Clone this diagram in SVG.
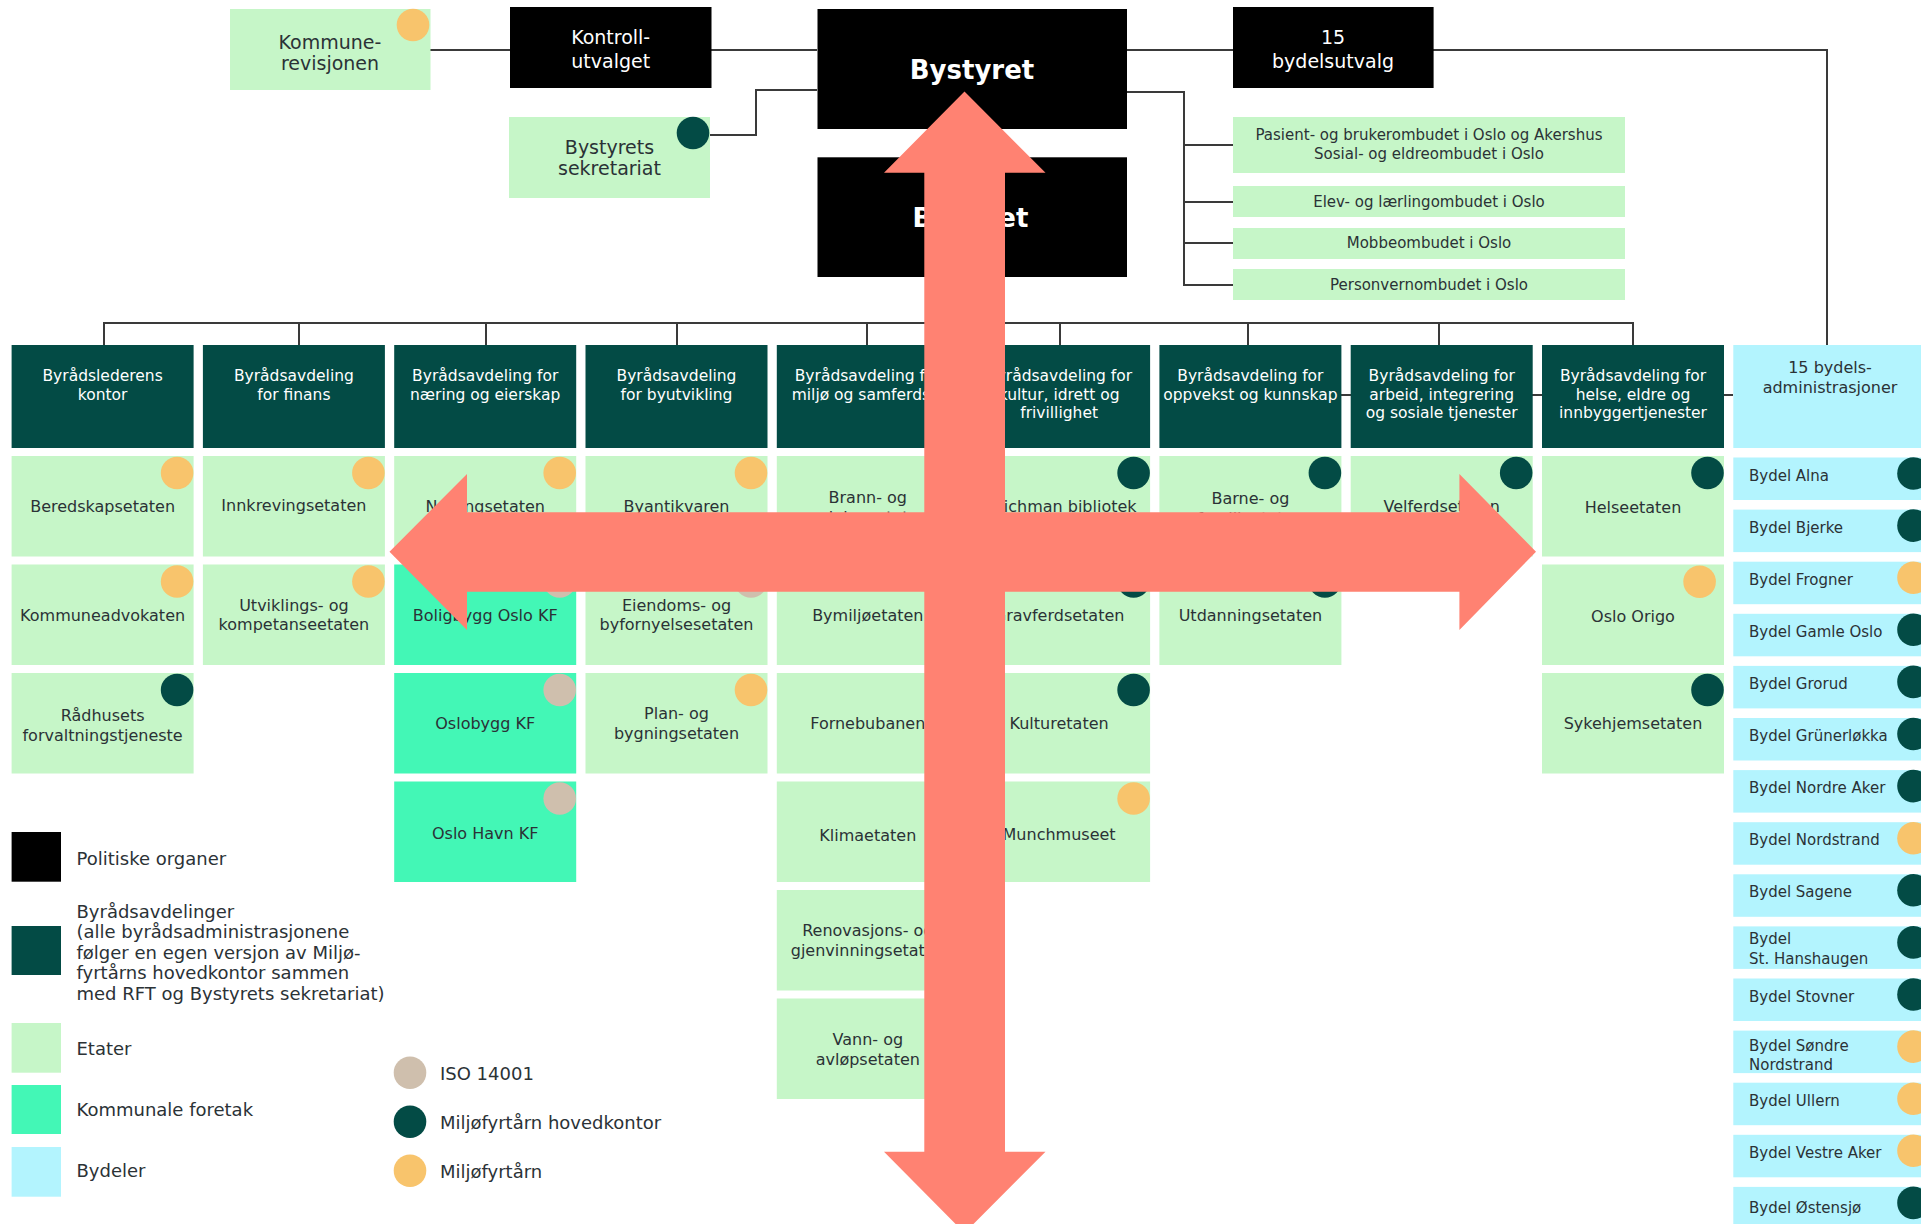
<svg xmlns="http://www.w3.org/2000/svg" width="1921" height="1224" viewBox="0 0 1921 1224">
<style>
.pol{fill:#000}
.dep{fill:#034B45}
.eta{fill:#C6F6C8}
.kf{fill:#43F7B6}
.byd{fill:#B3F4FE}
.co{fill:#F8C46C}
.cd{fill:#034B45}
.ci{fill:#CFBFAD}
.ln{fill:none;stroke:#3a3a3a;stroke-width:2}
text{font-family:"DejaVu Sans","Liberation Sans",sans-serif;fill:#2B3236;text-anchor:middle}
.f19{font-size:19px}
.f16{font-size:16px}
.f15{font-size:15px}
.f18{font-size:18px}
.wt{fill:#fff}
.big{font-size:26px;font-weight:bold;fill:#fff}
.dt{font-size:15.5px;fill:#fff}
.st{text-anchor:start}
.arrow{fill:#FF8272}
</style>

<g id="connectors">
<polyline class="ln" points="430,50 510,50"/>
<polyline class="ln" points="711,50 817,50"/>
<polyline class="ln" points="710,135 756,135 756,90 817,90"/>
<polyline class="ln" points="1127,50 1233,50"/>
<polyline class="ln" points="1433,50 1827,50 1827,345"/>
<polyline class="ln" points="1127,92 1184,92 1184,285 1233,285"/>
<polyline class="ln" points="1184,145 1233,145"/>
<polyline class="ln" points="1184,202 1233,202"/>
<polyline class="ln" points="1184,243 1233,243"/>
<polyline class="ln" points="972,277 972,323"/>
<polyline class="ln" points="104,345 104,323 1633,323 1633,345"/>
<polyline class="ln" points="299,323 299,345"/>
<polyline class="ln" points="486,323 486,345"/>
<polyline class="ln" points="677,323 677,345"/>
<polyline class="ln" points="867,323 867,345"/>
<polyline class="ln" points="1060,323 1060,345"/>
<polyline class="ln" points="1248,323 1248,345"/>
<polyline class="ln" points="1439,323 1439,345"/>
<polyline class="ln" points="1341,395 1733,395"/>
</g>

<g id="kommunerevisjonen"><rect class="eta" x="230" y="9" width="200.5" height="81"/><circle class="co" cx="413" cy="25" r="16.3"/><text class="f19" x="330" y="49">Kommune-</text><text class="f19" x="330" y="70">revisjonen</text></g>
<g id="kontrollutvalget"><rect class="pol" x="510" y="7" width="201.5" height="81"/><text class="f19 wt" x="610.7" y="44">Kontroll-</text><text class="f19 wt" x="610.7" y="68">utvalget</text></g>
<g id="bystyrets-sekretariat"><rect class="eta" x="509" y="117" width="201" height="81"/><circle class="cd" cx="693" cy="133" r="16.3"/><text class="f19" x="609.5" y="154">Bystyrets</text><text class="f19" x="609.5" y="175">sekretariat</text></g>
<g id="bystyret"><rect class="pol" x="817.5" y="9" width="309.5" height="120"/><text class="big" x="972" y="79">Bystyret</text></g>
<g id="byradet"><rect class="pol" x="817.5" y="157.3" width="309.5" height="119.7"/><text class="big" x="970.5" y="226.7">Byrådet</text></g>
<g id="bydelsutvalg"><rect class="pol" x="1233" y="7" width="200.6" height="81"/><text class="f19 wt" x="1333" y="44">15</text><text class="f19 wt" x="1333" y="68">bydelsutvalg</text></g>

<g id="ombud-pasient"><rect class="eta" x="1233" y="117" width="392" height="56"/><text class="f15" x="1429" y="139.5">Pasient- og brukerombudet i Oslo og Akershus</text><text class="f15" x="1429" y="158.5">Sosial- og eldreombudet i Oslo</text></g>
<g id="ombud-elev"><rect class="eta" x="1233" y="186" width="392" height="31"/><text class="f15" x="1429" y="206.5">Elev- og lærlingombudet i Oslo</text></g>
<g id="ombud-mobbe"><rect class="eta" x="1233" y="228" width="392" height="31"/><text class="f15" x="1429" y="247.5">Mobbeombudet i Oslo</text></g>
<g id="ombud-personvern"><rect class="eta" x="1233" y="269" width="392" height="31"/><text class="f15" x="1429" y="289.5">Personvernombudet i Oslo</text></g>

<g id="dep-byradsleder"><rect class="dep" x="11.6" y="345" width="182" height="103"/><text class="dt" x="102.6" y="381">Byrådslederens</text><text class="dt" x="102.6" y="399.5">kontor</text></g>
<g id="dep-finans"><rect class="dep" x="202.9" y="345" width="182" height="103"/><text class="dt" x="293.9" y="381">Byrådsavdeling</text><text class="dt" x="293.9" y="399.5">for finans</text></g>
<g id="dep-naring"><rect class="dep" x="394.2" y="345" width="182" height="103"/><text class="dt" x="485.2" y="381">Byrådsavdeling for</text><text class="dt" x="485.2" y="399.5">næring og eierskap</text></g>
<g id="dep-byutvikling"><rect class="dep" x="585.5" y="345" width="182" height="103"/><text class="dt" x="676.5" y="381">Byrådsavdeling</text><text class="dt" x="676.5" y="399.5">for byutvikling</text></g>
<g id="dep-miljo"><rect class="dep" x="776.8" y="345" width="182" height="103"/><text class="dt" x="867.8" y="381">Byrådsavdeling for</text><text class="dt" x="867.8" y="399.5">miljø og samferdsel</text></g>
<g id="dep-kultur"><rect class="dep" x="968.1" y="345" width="182" height="103"/><text class="dt" x="1059.1" y="381">Byrådsavdeling for</text><text class="dt" x="1059.1" y="399.5">kultur, idrett og</text><text class="dt" x="1059.1" y="418">frivillighet</text></g>
<g id="dep-oppvekst"><rect class="dep" x="1159.4" y="345" width="182" height="103"/><text class="dt" x="1250.4" y="381">Byrådsavdeling for</text><text class="dt" x="1250.4" y="399.5">oppvekst og kunnskap</text></g>
<g id="dep-arbeid"><rect class="dep" x="1350.7" y="345" width="182" height="103"/><text class="dt" x="1441.7" y="381">Byrådsavdeling for</text><text class="dt" x="1441.7" y="399.5">arbeid, integrering</text><text class="dt" x="1441.7" y="418">og sosiale tjenester</text></g>
<g id="dep-helse"><rect class="dep" x="1542" y="345" width="182" height="103"/><text class="dt" x="1633" y="381">Byrådsavdeling for</text><text class="dt" x="1633" y="399.5">helse, eldre og</text><text class="dt" x="1633" y="418">innbyggertjenester</text></g>
<g id="bydelsadm"><rect class="byd" x="1733.3" y="345" width="200" height="103"/><text class="f16" x="1830" y="373">15 bydels-</text><text class="f16" x="1830" y="393">administrasjoner</text></g>

<g id="beredskapsetaten"><rect class="eta" x="11.6" y="456" width="182" height="100.5"/><circle class="co" cx="177.1" cy="473" r="16.3"/><text class="f16" x="102.6" y="512">Beredskapsetaten</text></g>
<g id="kommuneadvokaten"><rect class="eta" x="11.6" y="564.5" width="182" height="100.5"/><circle class="co" cx="177.1" cy="581.5" r="16.3"/><text class="f16" x="102.6" y="620.5">Kommuneadvokaten</text></g>
<g id="radhusets"><rect class="eta" x="11.6" y="673" width="182" height="100.5"/><circle class="cd" cx="177.1" cy="690" r="16.3"/><text class="f16" x="102.6" y="721">Rådhusets</text><text class="f16" x="102.6" y="740.5">forvaltningstjeneste</text></g>

<g id="innkrevingsetaten"><rect class="eta" x="202.9" y="456" width="182" height="100.5"/><circle class="co" cx="368.4" cy="473" r="16.3"/><text class="f16" x="293.9" y="511">Innkrevingsetaten</text></g>
<g id="uke"><rect class="eta" x="202.9" y="564.5" width="182" height="100.5"/><circle class="co" cx="368.4" cy="581.5" r="16.3"/><text class="f16" x="293.9" y="610.5">Utviklings- og</text><text class="f16" x="293.9" y="630">kompetanseetaten</text></g>

<g id="naringsetaten"><rect class="eta" x="394.2" y="456" width="182" height="100.5"/><circle class="co" cx="559.7" cy="473" r="16.3"/><text class="f16" x="485.2" y="512">Næringsetaten</text></g>
<g id="boligbygg"><rect class="kf" x="394.2" y="564.5" width="182" height="100.5"/><circle class="ci" cx="559.7" cy="581.5" r="16.3"/><text class="f16" x="485.2" y="620.5">Boligbygg Oslo KF</text></g>
<g id="oslobygg"><rect class="kf" x="394.2" y="673" width="182" height="100.5"/><circle class="ci" cx="559.7" cy="690" r="16.3"/><text class="f16" x="485.2" y="729">Oslobygg KF</text></g>
<g id="oslohavn"><rect class="kf" x="394.2" y="781.5" width="182" height="100.5"/><circle class="ci" cx="559.7" cy="798.5" r="16.3"/><text class="f16" x="485.2" y="839">Oslo Havn KF</text></g>

<g id="byantikvaren"><rect class="eta" x="585.5" y="456" width="182" height="100.5"/><circle class="co" cx="751" cy="473" r="16.3"/><text class="f16" x="676.5" y="512">Byantikvaren</text></g>
<g id="eby"><rect class="eta" x="585.5" y="564.5" width="182" height="100.5"/><circle class="ci" cx="751" cy="581.5" r="16.3"/><text class="f16" x="676.5" y="610.5">Eiendoms- og</text><text class="f16" x="676.5" y="630">byfornyelsesetaten</text></g>
<g id="pbe"><rect class="eta" x="585.5" y="673" width="182" height="100.5"/><circle class="co" cx="751" cy="690" r="16.3"/><text class="f16" x="676.5" y="719">Plan- og</text><text class="f16" x="676.5" y="738.5">bygningsetaten</text></g>

<g id="brann"><rect class="eta" x="776.8" y="456" width="182" height="100.5"/><text class="f16" x="867.8" y="503">Brann- og</text><text class="f16" x="867.8" y="522.5">redningsetaten</text></g>
<g id="bymiljo"><rect class="eta" x="776.8" y="564.5" width="182" height="100.5"/><text class="f16" x="867.8" y="620.5">Bymiljøetaten</text></g>
<g id="fornebubanen"><rect class="eta" x="776.8" y="673" width="182" height="100.5"/><text class="f16" x="867.8" y="729">Fornebubanen</text></g>
<g id="klimaetaten"><rect class="eta" x="776.8" y="781.5" width="182" height="100.5"/><text class="f16" x="867.8" y="841">Klimaetaten</text></g>
<g id="renovasjon"><rect class="eta" x="776.8" y="890" width="182" height="100.5"/><text class="f16" x="867.8" y="936">Renovasjons- og</text><text class="f16" x="867.8" y="955.5">gjenvinningsetaten</text></g>
<g id="vann"><rect class="eta" x="776.8" y="998.5" width="182" height="100.5"/><text class="f16" x="867.8" y="1045">Vann- og</text><text class="f16" x="867.8" y="1064.5">avløpsetaten</text></g>

<g id="deichman"><rect class="eta" x="968.1" y="456" width="182" height="100.5"/><circle class="cd" cx="1133.6" cy="473" r="16.3"/><text class="f16" x="1059.1" y="512">Deichman bibliotek</text></g>
<g id="gravferd"><rect class="eta" x="968.1" y="564.5" width="182" height="100.5"/><circle class="cd" cx="1133.6" cy="581.5" r="16.3"/><text class="f16" x="1059.1" y="620.5">Gravferdsetaten</text></g>
<g id="kulturetaten"><rect class="eta" x="968.1" y="673" width="182" height="100.5"/><circle class="cd" cx="1133.6" cy="690" r="16.3"/><text class="f16" x="1059.1" y="729">Kulturetaten</text></g>
<g id="munch"><rect class="eta" x="968.1" y="781.5" width="182" height="100.5"/><circle class="co" cx="1133.6" cy="798.5" r="16.3"/><text class="f16" x="1059.1" y="840">Munchmuseet</text></g>

<g id="bfe"><rect class="eta" x="1159.4" y="456" width="182" height="100.5"/><circle class="cd" cx="1324.9" cy="473" r="16.3"/><text class="f16" x="1250.4" y="504">Barne- og</text><text class="f16" x="1250.4" y="523.5">familieetaten</text></g>
<g id="utdanning"><rect class="eta" x="1159.4" y="564.5" width="182" height="100.5"/><circle class="cd" cx="1324.9" cy="581.5" r="16.3"/><text class="f16" x="1250.4" y="620.5">Utdanningsetaten</text></g>

<g id="velferd"><rect class="eta" x="1350.7" y="456" width="182" height="100.5"/><circle class="cd" cx="1516.2" cy="473" r="16.3"/><text class="f16" x="1441.7" y="512">Velferdsetaten</text></g>

<g id="helseetaten"><rect class="eta" x="1542" y="456" width="182" height="100.5"/><circle class="cd" cx="1707.5" cy="473" r="16.3"/><text class="f16" x="1633" y="513">Helseetaten</text></g>
<g id="origo"><rect class="eta" x="1542" y="564.5" width="182" height="100.5"/><circle class="co" cx="1699.6" cy="581.7" r="16.3"/><text class="f16" x="1633" y="622">Oslo Origo</text></g>
<g id="sykehjem"><rect class="eta" x="1542" y="673" width="182" height="100.5"/><circle class="cd" cx="1707.5" cy="690" r="16.3"/><text class="f16" x="1633" y="729">Sykehjemsetaten</text></g>

<g id="bydel-alna"><rect class="byd" x="1733.3" y="457.5" width="200" height="42.5"/><circle class="cd" cx="1913.5" cy="473.5" r="16.3"/><text class="f15 st" x="1749" y="480.5">Bydel Alna</text></g>
<g id="bydel-bjerke"><rect class="byd" x="1733.3" y="509.6" width="200" height="42.5"/><circle class="cd" cx="1913.5" cy="525.6" r="16.3"/><text class="f15 st" x="1749" y="532.6">Bydel Bjerke</text></g>
<g id="bydel-frogner"><rect class="byd" x="1733.3" y="561.7" width="200" height="42.5"/><circle class="co" cx="1913.5" cy="577.7" r="16.3"/><text class="f15 st" x="1749" y="584.7">Bydel Frogner</text></g>
<g id="bydel-gamleoslo"><rect class="byd" x="1733.3" y="613.8" width="200" height="42.5"/><circle class="cd" cx="1913.5" cy="629.8" r="16.3"/><text class="f15 st" x="1749" y="636.8">Bydel Gamle Oslo</text></g>
<g id="bydel-grorud"><rect class="byd" x="1733.3" y="665.9" width="200" height="42.5"/><circle class="cd" cx="1913.5" cy="681.9" r="16.3"/><text class="f15 st" x="1749" y="688.9">Bydel Grorud</text></g>
<g id="bydel-grunerlokka"><rect class="byd" x="1733.3" y="718" width="200" height="42.5"/><circle class="cd" cx="1913.5" cy="734" r="16.3"/><text class="f15 st" x="1749" y="741">Bydel Grünerløkka</text></g>
<g id="bydel-nordreaker"><rect class="byd" x="1733.3" y="770.1" width="200" height="42.5"/><circle class="cd" cx="1913.5" cy="786.1" r="16.3"/><text class="f15 st" x="1749" y="793.1">Bydel Nordre Aker</text></g>
<g id="bydel-nordstrand"><rect class="byd" x="1733.3" y="822.2" width="200" height="42.5"/><circle class="co" cx="1913.5" cy="838.2" r="16.3"/><text class="f15 st" x="1749" y="845.2">Bydel Nordstrand</text></g>
<g id="bydel-sagene"><rect class="byd" x="1733.3" y="874.3" width="200" height="42.5"/><circle class="cd" cx="1913.5" cy="890.3" r="16.3"/><text class="f15 st" x="1749" y="897.3">Bydel Sagene</text></g>
<g id="bydel-sthanshaugen"><rect class="byd" x="1733.3" y="926.4" width="200" height="42.5"/><circle class="cd" cx="1913.5" cy="942.4" r="16.3"/><text class="f15 st" x="1749" y="944.4">Bydel</text><text class="f15 st" x="1749" y="963.9">St. Hanshaugen</text></g>
<g id="bydel-stovner"><rect class="byd" x="1733.3" y="978.5" width="200" height="42.5"/><circle class="cd" cx="1913.5" cy="994.5" r="16.3"/><text class="f15 st" x="1749" y="1001.5">Bydel Stovner</text></g>
<g id="bydel-sondrenordstrand"><rect class="byd" x="1733.3" y="1030.6" width="200" height="42.5"/><circle class="co" cx="1913.5" cy="1046.6" r="16.3"/><text class="f15 st" x="1749" y="1050.6">Bydel Søndre</text><text class="f15 st" x="1749" y="1070.1">Nordstrand</text></g>
<g id="bydel-ullern"><rect class="byd" x="1733.3" y="1082.7" width="200" height="42.5"/><circle class="co" cx="1913.5" cy="1098.7" r="16.3"/><text class="f15 st" x="1749" y="1105.7">Bydel Ullern</text></g>
<g id="bydel-vestreaker"><rect class="byd" x="1733.3" y="1134.8" width="200" height="42.5"/><circle class="co" cx="1913.5" cy="1150.8" r="16.3"/><text class="f15 st" x="1749" y="1157.8">Bydel Vestre Aker</text></g>
<g id="bydel-ostensjo"><rect class="byd" x="1733.3" y="1186.9" width="200" height="42.5"/><circle class="cd" cx="1913.5" cy="1202.9" r="16.3"/><text class="f15 st" x="1749" y="1213">Bydel Østensjø</text></g>

<g id="legend">
<rect class="pol" x="11.6" y="832" width="49.4" height="49.7"/>
<text class="f18 st" x="76.5" y="864.5">Politiske organer</text>
<rect class="dep" x="11.6" y="926" width="49.4" height="49"/>
<text class="f18 st" x="76.5" y="917.5">Byrådsavdelinger</text>
<text class="f18 st" x="76.5" y="938">(alle byrådsadministrasjonene</text>
<text class="f18 st" x="76.5" y="958.5">følger en egen versjon av Miljø-</text>
<text class="f18 st" x="76.5" y="979">fyrtårns hovedkontor sammen</text>
<text class="f18 st" x="76.5" y="999.5">med RFT og Bystyrets sekretariat)</text>
<rect class="eta" x="11.6" y="1023" width="49.4" height="49.7"/>
<text class="f18 st" x="76.5" y="1054.5">Etater</text>
<rect class="kf" x="11.6" y="1085" width="49.4" height="49"/>
<text class="f18 st" x="76.5" y="1115.5">Kommunale foretak</text>
<rect class="byd" x="11.6" y="1147" width="49.4" height="49.7"/>
<text class="f18 st" x="76.5" y="1177">Bydeler</text>
<circle class="ci" cx="410" cy="1072.7" r="16.3"/>
<text class="f18 st" x="440" y="1079.5">ISO 14001</text>
<circle class="cd" cx="410" cy="1121.7" r="16.3"/>
<text class="f18 st" x="440" y="1128.5">Miljøfyrtårn hovedkontor</text>
<circle class="co" cx="410" cy="1170.7" r="16.3"/>
<text class="f18 st" x="440" y="1177.5">Miljøfyrtårn</text>
</g>

<g id="cross-arrow">
<polygon class="arrow" points="964.5,91.5 1045.5,172.7 1005,172.7 1005,512.3 1459.4,512.3 1459.4,474 1536,551.7 1459.4,630 1459.4,591.7 1005,591.7 1005,1151.7 1045.5,1151.7 964.5,1233 884,1151.7 924.3,1151.7 924.3,591.7 467,591.7 467,630 389.5,551.7 467,474 467,512.3 924.3,512.3 924.3,172.7 884,172.7"/>
</g>
</svg>
